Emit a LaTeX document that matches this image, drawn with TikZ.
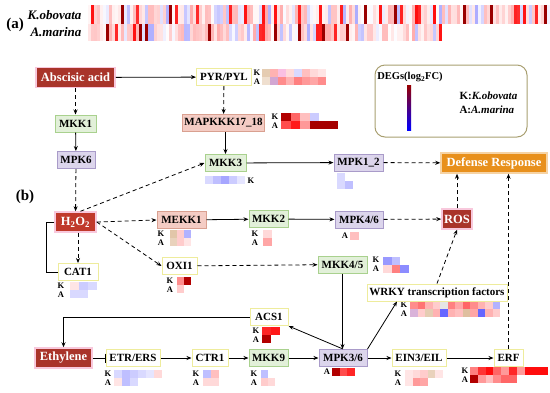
\documentclass[tikz,border=0pt]{standalone}
\usepackage{fontspec}
\setmainfont{Liberation Serif}
\usetikzlibrary{arrows.meta}

\definecolor{boxyel}{HTML}{EEEC9C}
\definecolor{boxgrn}{HTML}{A9D18E}
\definecolor{fillgrn}{HTML}{E2F0D9}
\definecolor{boxpur}{HTML}{A99BC9}
\definecolor{fillpur}{HTML}{DCD5EC}
\definecolor{boxpnk}{HTML}{D9A090}
\definecolor{fillpnk}{HTML}{F4CCC4}
\definecolor{darkred}{HTML}{A9342A}
\definecolor{brightred}{HTML}{C0392B}
\definecolor{glow}{HTML}{F8C8DC}
\definecolor{fillorg}{HTML}{E8901C}
\definecolor{legline}{HTML}{A89F70}

% one row of heatmap cells: x, y, cell width, colours
\newcommand{\heatrow}[4]{%
  \foreach \c [count=\i] in {#4}
    \fill[\c] ({#1+(\i-1)*#3},#2) rectangle ++(#3,8);
}

% long strip of random cells: x, y, number of cells, height
\newcommand{\heatstrip}[4]{%
  \foreach \i in {1,...,#3}{
    \pgfmathrandominteger{\v}{-40}{100}
    \ifnum\v<0 \pgfmathtruncatemacro{\w}{-\v*0.8}\def\hc{blue!\w}%
    \else\ifnum\v>94 \def\hc{red!60!black}%
    \else\ifnum\v>82 \def\hc{red!\v}%
    \else\pgfmathtruncatemacro{\w}{\v/2.5}\def\hc{red!\w}\fi\fi\fi
    \fill[\hc] ({#1+(\i-1)*3},#2) rectangle ++(3,#4);
  }
}

% K and A labels beside a heatmap
\newcommand{\ka}[3]{%
  \node[lab] (#1K) at (#2,#3) {K};
  \node[lab] (#1A) at (#2,#3+8.5) {A};
}

\tikzset{
  box/.style={draw, line width=1pt, minimum height=17, inner sep=2pt,
    font=\bfseries\fontsize{11}{13}\selectfont},
  yel/.style={box, draw=boxyel, fill=white},
  grn/.style={box, draw=boxgrn, fill=fillgrn},
  pur/.style={box, draw=boxpur, fill=fillpur},
  pnk/.style={box, draw=boxpnk, fill=fillpnk},
  drk/.style={box, draw=glow, line width=1.5pt, fill=darkred, text=white,
    minimum height=20, font=\bfseries\fontsize{12.5}{14}\selectfont},
  org/.style={drk, fill=fillorg, draw=fillorg!40},
  lab/.style={inner sep=0pt, font=\bfseries\fontsize{8.5}{9}\selectfont},
  arr/.style={-{Stealth[length=5pt,width=4pt]}, line width=0.8pt},
  darr/.style={arr, dash pattern=on 4pt off 3pt},
  inh/.style={-{Bar[width=9pt]}, line width=0.8pt}
}

\begin{document}
\begin{tikzpicture}[x=1pt,y=-1pt]
\useasboundingbox (0,0) rectangle (550,392);

% (a) heatmap
\pgfmathsetseed{7}
\heatstrip{88}{5}{154}{19}
\heatstrip{88}{24}{118}{17}
\node[font=\bfseries\fontsize{15}{17}\selectfont] (pa) at (15,25) {(a)};
\node[anchor=east, font=\bfseries\itshape\fontsize{13}{15}\selectfont] (kob) at (85,15) {K.obovata};
\node[anchor=east, font=\bfseries\itshape\fontsize{13}{15}\selectfont] (ama) at (85,32) {A.marina};

% legend
\draw[legline, line width=1pt, rounded corners=10] (375,65) rectangle (527,137);
\node[font=\bfseries\fontsize{10.5}{12}\selectfont] (degs) at (410,77) {DEGs(log\textsubscript{2}FC)};
\shade[top color=red!60!black, middle color=white, bottom color=blue] (407,85) rectangle (411,130);
\node[anchor=west, font=\bfseries\fontsize{11}{13}\selectfont] (legk) at (456,96) {K:\textit{K.obovata}};
\node[anchor=west, font=\bfseries\fontsize{11}{13}\selectfont] (lega) at (456,110) {A:\textit{A.marina}};

\node[font=\bfseries\fontsize{15}{17}\selectfont] (pb) at (25,197) {(b)};

% heatmaps
\ka{pyr}{257}{73}
\heatrow{262}{69}{8}{brown!40,red!30,magenta!25,red!15,blue!15,red!25,red!15,red!10}
\heatrow{262}{77}{8}{brown!25,violet!35,red!45,red!30,red!50,red!40,red!35,red!45}
\ka{map}{275}{117}
\heatrow{281}{113}{9.5}{red!70!black,red!60,red!25,blue!20}
\heatrow{281}{121}{9.5}{red!70,red!90,red!40,red!65!black,red!65!black,red!65!black}
\heatrow{205}{176}{8}{blue!15,blue!25,blue!35,blue!20,blue!10}
\node[lab] (mkkthK) at (251,181) {K};
\heatrow{337}{173}{8}{blue!15}
\heatrow{337}{181}{8}{blue!15,blue!25}
\ka{mekk}{161}{234}
\heatrow{170}{230}{7}{brown!45,red!20,blue!30}
\heatrow{170}{238}{7}{brown!35,red!20,red!10}
\ka{mktw}{255}{234}
\heatrow{263}{230}{9}{red!15}
\heatrow{263}{238}{9}{red!35}
\node[lab] (mpkfA) at (345,236) {A};
\heatrow{350}{232}{9}{red!25}
\ka{cat}{61}{286}
\heatrow{70}{282}{9}{red!10,blue!20,blue!15}
\heatrow{70}{290}{9}{blue!15,blue!15}
\ka{oxi}{170}{281}
\heatrow{177}{277}{7}{red!45,red!70!black}
\heatrow{177}{285}{7}{red!20}
\ka{mkkf}{376}{260}
\heatrow{383}{257}{8.5}{blue!40,blue!25}
\heatrow{383}{265}{8.5}{red!15,red!50,blue!45}
\ka{wrky}{404}{305}
\heatrow{410}{301}{7.5}{red!45,red!55,red!30,red!20,gray!20,red!50,red!35,red!60,red!45,red!30,red!20,blue!30}
\heatrow{410}{309}{7.5}{violet!30,red!20,brown!40,red!30,blue!60,red!30,red!25,brown!50,red!35,blue!60,red!30,red!20}
\ka{acs}{256}{331}
\heatrow{262}{327}{9}{red!85,red!90}
\heatrow{262}{335}{9}{red!70!black}
\ka{etr}{108}{374}
\heatrow{114}{370}{8}{blue!15,blue!25,blue!20,blue!15,blue!10,red!15}
\heatrow{114}{378}{8}{red!10,blue!25,blue!15}
\ka{ctr}{196}{374}
\heatrow{203}{370}{8}{blue!25,red!25}
\heatrow{203}{378}{8}{red!15,red!15}
\ka{mkkn}{254}{374}
\heatrow{261}{370}{7}{blue!25}
\heatrow{261}{378}{7}{red!20,red!15}
\node[lab] (mpktA) at (327,372) {A};
\heatrow{332}{368}{7.5}{red!70!black,red!70,red!85}
\ka{ein}{398}{374}
\heatrow{405}{370}{7.5}{red!10,red!15,red!20,brown!35,red!10}
\heatrow{405}{378}{7.5}{red!10,red!40,red!35}
\ka{erf}{465}{371}
\heatrow{470}{367}{7.8}{red!50,red!80,red!95,red!60,red!40,red!85,red!40,red!95,red!95,red!95}
\heatrow{470}{375}{7.8}{red!70!black,red!40,red!25,red!45,red!60,red!60}

% nodes
\node[drk, minimum width=79] (aba) at (75.5,77.5) {Abscisic acid};
\node[yel, minimum width=55] (pyr) at (224,77) {PYR/PYL};
\node[grn, minimum width=41] (mkk1) at (75.5,123.5) {MKK1};
\node[pnk, minimum width=81] (mapkkk) at (223.5,123) {MAPKKK17\_18};
\node[pur, minimum width=38] (mpk6) at (76,160) {MPK6};
\node[grn, minimum width=41] (mkk3) at (225.5,163) {MKK3};
\node[pur, minimum width=49] (mpk12) at (358.5,162.5) {MPK1\_2};
\node[org, minimum width=106] (def) at (494,163) {Defense Response};

\node[drk, fill=brightred, minimum width=41] (hoo) at (75.5,222) {H\textsubscript{2}O\textsubscript{2}};
\node[pnk, minimum width=49] (mekk1) at (181.5,220) {MEKK1};
\node[grn, minimum width=39] (mkk2) at (268.5,219) {MKK2};
\node[pur, minimum width=48] (mpk46) at (359,219.5) {MPK4/6};
\node[drk, minimum width=30] (ros) at (457,219) {ROS};
\node[yel, minimum width=40] (cat1) at (78,272) {CAT1};
\node[yel, minimum width=35] (oxi1) at (179.5,266) {OXI1};
\node[grn, minimum width=49] (mkk45) at (342.5,264.5) {MKK4/5};
\node[yel, minimum width=140] (wrky) at (437,292.5) {WRKY transcription factors};
\node[yel, minimum width=38] (acs1) at (269,317) {ACS1};

\node[drk, minimum width=57] (eth) at (63.5,358) {Ethylene};
\node[yel, minimum width=54] (etr) at (133,358) {ETR/ERS};
\node[yel, minimum width=36] (ctr1) at (210,358) {CTR1};
\node[grn, minimum width=39] (mkk9) at (268.5,358) {MKK9};
\node[pur, minimum width=48] (mpk36) at (343,358) {MPK3/6};
\node[yel, minimum width=54] (ein3) at (419,358) {EIN3/EIL};
\node[yel, minimum width=29] (erf) at (508.5,358) {ERF};

% connectors
\draw[arr] (aba) -- (pyr);
\draw[darr] (aba) -- (mkk1);
\draw[darr] (pyr) -- (mapkkk);
\draw[arr] (mkk1) -- (mpk6);
\draw[arr] (mapkkk.south -| mkk3) -- (mkk3);
\draw[darr] (mpk6) -- (hoo);
\draw[darr] ([xshift=5]hoo.north) -- (mkk3.west);
\draw[arr] (mkk3) -- (mpk12);
\draw[darr] (mpk12) -- (def);

\draw[darr] (hoo.east) -- (mekk1.west);
\draw[arr] (mekk1) -- (mkk2);
\draw[arr] (mkk2) -- (mpk46);
\draw[darr] (mpk46) -- (ros);
\draw[darr] (ros) -- (ros |- def.south);
\draw[darr] (erf) -- (erf |- def.south);
\draw[darr] (hoo.south -| cat1) -- (cat1);
\draw[line width=0.8pt] (hoo.west) -- ++(-8,0) |- (cat1.west);
\draw[darr] (hoo.east) -- (oxi1.west);
\draw[darr] (oxi1) -- (mkk45);
\draw[arr] (mkk45) -- (mkk45 |- mpk36.north);
\draw[arr] (mpk36.north) -- (acs1.south east);
\draw[arr] (mpk36.north east) -- ([xshift=-40]wrky.south);
\draw[darr] (wrky.north) -- (ros.south);
\draw[arr] (acs1.west) -| (eth.north);

\draw[inh] (eth) -- (etr);
\draw[arr] (etr) -- (ctr1);
\draw[arr] (ctr1) -- (mkk9);
\draw[arr] (mkk9) -- (mpk36);
\draw[arr] (mpk36) -- (ein3);
\draw[arr] (ein3) -- (erf);
\end{tikzpicture}
\end{document}
